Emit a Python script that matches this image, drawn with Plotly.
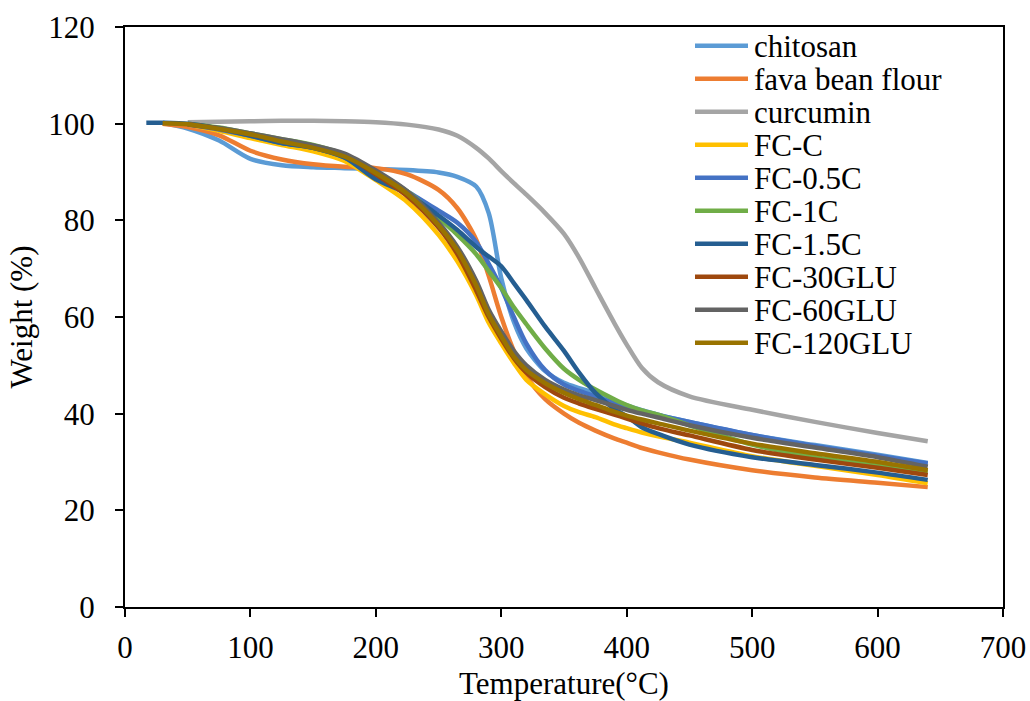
import plotly.graph_objects as go

temperature = [17, 30, 50, 75, 100, 125, 150, 175, 200, 225, 250, 265, 280, 290, 300, 310, 320,
               335, 350, 362, 375, 390, 400, 412, 425, 450, 500, 550, 600, 640]

chitosan = [None, 100.2, 99.0, 96.5, 92.7, 91.4, 91.0, 90.8, 90.6, 90.4, 89.9, 89.0, 87.0, 81.5,
            68.0, 59.0, 53.5, 48.8, 46.4, 45.3, 44.3, 42.7, 41.7, 40.7, 39.8, 38.3, 35.6, 33.5, 31.5, 29.8]
fava_bean_flour = [None, 100.0, 99.3, 97.6, 94.4, 92.6, 91.6, 91.1, 90.8, 89.5, 86.3, 82.5, 76.0,
                   68.5, 60.0, 53.0, 47.8, 43.0, 40.0, 38.1, 36.5, 34.9, 34.0, 32.9, 32.0, 30.5,
                   28.3, 26.8, 25.7, 24.8]
curcumin = [None, None, 100.3, 100.4, 100.5, 100.6, 100.6, 100.5, 100.3, 99.8, 98.8, 97.5, 95.0,
            92.8, 90.2, 87.7, 85.3, 81.5, 77.2, 72.3, 66.0, 58.8, 54.3, 49.5, 46.5, 43.6, 40.8,
            38.3, 36.0, 34.3]
fc_c = [None, None, 99.8, 98.5, 97.0, 95.6, 94.3, 92.3, 88.3, 83.8, 77.0, 71.5, 64.5, 58.8, 54.5,
        50.5, 47.0, 44.0, 41.6, 40.3, 39.3, 37.8, 37.0, 36.1, 35.3, 34.0, 31.2, 29.2, 27.3, 25.6]
fc_05c = [None, None, 99.8, 98.8, 97.5, 96.0, 95.0, 93.0, 89.5, 86.0, 82.0, 79.5, 75.5, 71.0, 66.0,
          60.0, 54.5, 49.0, 46.0, 44.7, 43.6, 42.1, 41.2, 40.4, 39.7, 38.3, 35.6, 33.3, 31.3, 29.7]
fc_1c = [None, None, 100.0, 99.2, 98.0, 96.8, 95.6, 93.6, 90.0, 86.0, 80.5, 77.0, 73.0, 69.5, 66.0,
         62.0, 58.5, 53.5, 49.3, 47.0, 45.0, 43.0, 41.8, 40.7, 39.8, 37.6, 33.6, 31.0, 29.3, 28.0]
fc_15c = [100.2, 100.2, 100.0, 99.0, 97.5, 96.0, 95.0, 93.0, 88.5, 85.5, 81.0, 78.0, 74.5, 72.5, 70.5,
          67.0, 63.5, 58.0, 53.0, 48.5, 44.3, 41.0, 39.5, 37.2, 35.8, 33.6, 31.0, 29.4, 27.8, 26.3]
fc_30glu = [None, None, 99.9, 99.0, 97.8, 96.5, 95.3, 93.5, 89.5, 85.0, 78.5, 73.0, 65.5, 60.0, 55.5,
            51.5, 48.5, 45.5, 43.3, 42.1, 41.0, 39.8, 39.0, 38.0, 37.0, 35.5, 32.5, 30.5, 28.8, 27.3]
fc_60glu = [None, None, 99.9, 99.1, 98.0, 96.8, 95.5, 93.8, 90.3, 86.0, 79.5, 74.5, 67.5, 61.5, 57.0,
            53.0, 50.0, 47.0, 45.0, 43.8, 42.8, 41.6, 40.8, 40.0, 39.2, 37.6, 35.0, 33.0, 31.0, 29.0]
fc_120glu = [None, 100.1, 99.9, 98.9, 97.8, 96.3, 95.0, 93.2, 89.8, 85.5, 79.0, 73.8, 66.5, 60.5, 56.0,
             51.8, 49.0, 46.3, 44.3, 43.0, 41.8, 40.4, 39.6, 38.8, 38.0, 36.5, 33.8, 31.8, 30.0, 28.3]

series_names = ["chitosan", "fava bean flour", "curcumin", "FC-C", "FC-0.5C", "FC-1C", "FC-1.5C",
                "FC-30GLU", "FC-60GLU", "FC-120GLU"]
series_values = [chitosan, fava_bean_flour, curcumin, fc_c, fc_05c, fc_1c, fc_15c,
                 fc_30glu, fc_60glu, fc_120glu]
colors = ["#5B9BD5", "#ED7D31", "#A5A5A5", "#FFC000", "#4472C4", "#70AD47", "#255E91",
          "#9E480E", "#636363", "#997300"]

x_ticks = [0, 100, 200, 300, 400, 500, 600, 700]
y_ticks = [0, 20, 40, 60, 80, 100, 120]

FONT = "Liberation Serif, Times New Roman, serif"

# plot-area geometry (px) used only to place the legend in paper coordinates
W, H = 1030, 701
ML, MR, MT, MB = 125, 27, 27, 94
PW, PH = W - ML - MR, H - MT - MB

def px_x(px):
    return (px - ML) / PW

def px_y(py):
    return (H - MB - py) / PH

fig = go.Figure()
for name, vals, col in zip(series_names, series_values, colors):
    xs = [t for t, v in zip(temperature, vals) if v is not None]
    ys = [v for v in vals if v is not None]
    fig.add_trace(go.Scatter(x=xs, y=ys, mode="lines", name=name, showlegend=False,
                             line=dict(color=col, width=4.5, shape="spline", smoothing=0.8)))

# legend drawn as line samples + text labels
shapes = []
annotations = []
leg_top, leg_step = 45.7, 33.0
for i, (name, col) in enumerate(zip(series_names, colors)):
    yc = leg_top + i * leg_step
    shapes.append(dict(type="line", xref="paper", yref="paper",
                       x0=px_x(695), x1=px_x(748), y0=px_y(yc), y1=px_y(yc),
                       line=dict(color=col, width=4.5)))
    annotations.append(dict(xref="paper", yref="paper", x=px_x(752), y=px_y(yc + 1),
                            xanchor="left", yanchor="middle", text=name, showarrow=False,
                            font=dict(family=FONT, size=31, color="black")))

fig.update_layout(
    width=W, height=H,
    margin=dict(l=ML, r=MR, t=MT, b=MB),
    paper_bgcolor="white", plot_bgcolor="white",
    font=dict(family=FONT, size=31, color="black"),
    showlegend=False,
    shapes=shapes,
    annotations=annotations,
    xaxis=dict(range=[0, 700], tickvals=x_ticks, showgrid=False, zeroline=False,
               showline=True, linecolor="black", linewidth=2, mirror=True,
               ticks="outside", ticklen=8, tickwidth=1.5, tickcolor="black",
               ticklabelstandoff=4, automargin=False,
               title=dict(text="Temperature(°C)", standoff=14, font=dict(size=31)),
               tickfont=dict(size=31)),
    yaxis=dict(range=[0, 120], tickvals=y_ticks, showgrid=False, zeroline=False,
               showline=True, linecolor="black", linewidth=2, mirror=True,
               ticks="outside", ticklen=8, tickwidth=1.5, tickcolor="black",
               ticklabelstandoff=14, automargin=False,
               title=dict(text="Weight (%)", standoff=6, font=dict(size=31)),
               tickfont=dict(size=31)),
)

fig.write_html("out.html")
